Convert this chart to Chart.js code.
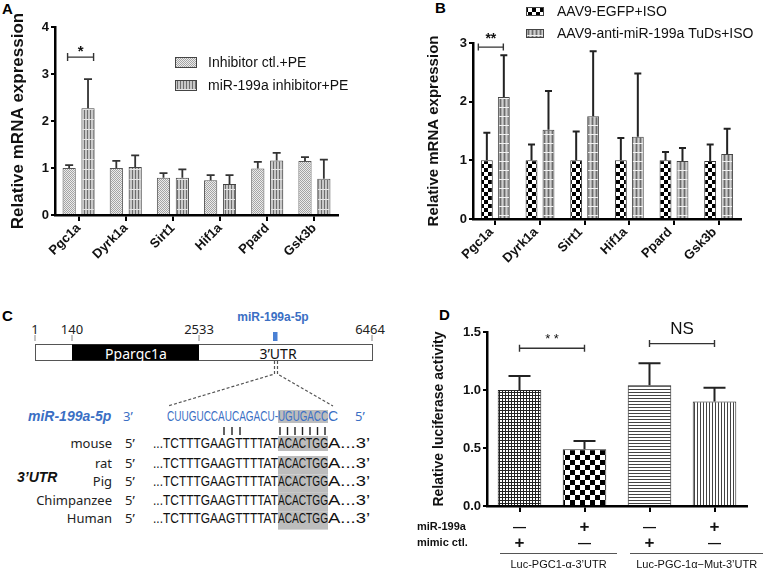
<!DOCTYPE html>
<html lang="en">
<head>
<meta charset="UTF-8">
<title>miR-199a targets Ppargc1a</title>
<script src="https://cdn.jsdelivr.net/npm/chart.js@4"></script>
<style>
  html, body { margin: 0; padding: 0; background: #fff; }
  body { width: 763px; height: 570px; position: relative; overflow: hidden; font-family: "Liberation Sans", Arial, sans-serif; }
  .panel { position: absolute; }
  .tag { position: absolute; font: bold 15px/15px "Liberation Sans", Arial, sans-serif; color: #000; }
</style>
</head>
<body>
<div class="tag" style="left:2px;top:1px">A</div>
<div class="tag" style="left:435px;top:0px">B</div>
<div class="tag" style="left:2px;top:308px">C</div>
<div class="tag" style="left:439px;top:307px">D</div>

<canvas class="panel" id="chartA" width="380" height="268" style="left:0;top:0"></canvas>
<canvas class="panel" id="chartB" width="383" height="268" style="left:380px;top:0"></canvas>
<svg class="panel" id="panelC" width="400" height="300" style="left:0;top:270px"></svg>
<canvas class="panel" id="chartD" width="363" height="280" style="left:400px;top:290px"></canvas>

<script>
// ---------- data ----------
const genes = ['Pgc1a', 'Dyrk1a', 'Sirt1', 'Hif1a', 'Ppard', 'Gsk3b'];

// A: relative mRNA, cardiomyocytes + PE
const aSeries = ['Inhibitor ctl.+PE', 'miR-199a inhibitor+PE'];
const aCtlMean = [1.00, 1.00, 0.79, 0.74, 0.99, 1.15];
const aCtlSd   = [0.06, 0.15, 0.10, 0.11, 0.14, 0.08];
const aInhMean = [2.27, 1.02, 0.79, 0.66, 1.16, 0.77];
const aInhSd   = [0.62, 0.25, 0.18, 0.19, 0.16, 0.41];
const aTicks = [0, 1, 2, 3, 4];

// B: relative mRNA, AAV9 + ISO hearts
const bSeries = ['AAV9-EGFP+ISO', 'AAV9-anti-miR-199a TuDs+ISO'];
const bEgfpMean = [1.00, 1.00, 1.00, 1.00, 1.00, 0.99];
const bEgfpSd   = [0.47, 0.27, 0.49, 0.38, 0.14, 0.28];
const bTudMean  = [2.08, 1.52, 1.75, 1.40, 0.99, 1.11];
const bTudSd    = [0.71, 0.66, 1.11, 1.08, 0.22, 0.43];
const bTicks = [0, 1, 2, 3];

// C: Ppargc1a transcript map and seed alignment
const coordLabels = ['1', '140', '2533', '6464'];
const mirName = 'miR-199a-5p';
const mirSeq = ['CUUGUCCAUCAGACU-', 'UGUGACC', 'C'];
const species = ['mouse', 'rat', 'Pig', 'Chimpanzee', 'Human'];
const utrSeq = ['...TCTTTGAAGTTTTAT', 'ACACTGG', 'A...3\u2019'];

// D: luciferase reporter
const dConstructs = ['Luc-PGC1-\u03b1-3\u2019UTR', 'Luc-PGC-1\u03b1\u2212Mut-3\u2019UTR'];
const dMiR199a  = ['\u2014', '+', '\u2014', '+'];
const dMimicCtl = ['+', '\u2014', '+', '\u2014'];
const dMean = [1.00, 0.49, 1.04, 0.90];
const dSd   = [0.12, 0.07, 0.19, 0.12];
const dTicks = [0, 0.5, 1.0, 1.5];

// ---------- helpers ----------
const FONT = '"Liberation Sans", Arial, sans-serif';
Chart.defaults.font.family = FONT;
Chart.defaults.color = '#111';

function makePattern(w, h, paint) {
  const c = document.createElement('canvas');
  c.width = w; c.height = h;
  const g = c.getContext('2d');
  paint(g, w, h);
  return g.createPattern(c, 'repeat');
}
const stipple = makePattern(2, 2, g => {
  g.fillStyle = '#ececec'; g.fillRect(0, 0, 2, 2);
  g.fillStyle = '#a4a4a4'; g.fillRect(0, 0, 1, 1); g.fillRect(1, 1, 1, 1);
});
const vstripeA = makePattern(3, 10, g => {
  g.fillStyle = '#c8c8c8'; g.fillRect(0, 0, 3, 10);
  g.fillStyle = '#6e6e6e'; g.fillRect(0, 0, 1, 10);
  g.fillStyle = '#e6e6e6'; g.fillRect(0, 9, 3, 1);
});
const checker4 = makePattern(8, 8, g => {
  g.fillStyle = '#fff'; g.fillRect(0, 0, 8, 8);
  g.fillStyle = '#000'; g.fillRect(0, 0, 4, 4); g.fillRect(4, 4, 4, 4);
});
const vstripeB = makePattern(4, 9, g => {
  g.fillStyle = '#a8a8a8'; g.fillRect(0, 0, 4, 9);
  g.fillStyle = '#6c6c6c'; g.fillRect(0, 0, 1, 9);
  g.fillStyle = '#cfcfcf'; g.fillRect(2, 0, 1, 9);
  g.fillStyle = '#f2f2f2'; g.fillRect(0, 8, 4, 1);
});
const gridPat = makePattern(3, 3, g => {
  g.fillStyle = '#fff'; g.fillRect(0, 0, 3, 3);
  g.fillStyle = '#222'; g.fillRect(0, 0, 3, 1); g.fillRect(0, 0, 1, 3);
});
const checker5 = makePattern(10, 10, g => {
  g.fillStyle = '#fff'; g.fillRect(0, 0, 10, 10);
  g.fillStyle = '#000'; g.fillRect(0, 0, 5, 5); g.fillRect(5, 5, 5, 5);
});
const hlines = makePattern(1, 3, g => {
  g.fillStyle = '#fff'; g.fillRect(0, 0, 1, 3);
  g.fillStyle = '#444'; g.fillRect(0, 0, 1, 1);
});
const vlines = makePattern(3, 1, g => {
  g.fillStyle = '#fff'; g.fillRect(0, 0, 3, 1);
  g.fillStyle = '#444'; g.fillRect(0, 0, 1, 1);
});

function errorBars(o) {
  return {
    id: 'errorBars',
    afterDatasetsDraw(chart) {
      const ctx = chart.ctx, y = chart.scales.y;
      chart.data.datasets.forEach((ds, i) => {
        chart.getDatasetMeta(i).data.forEach((bar, j) => {
          const top = y.getPixelForValue(ds.data[j] + ds.sd[j]);
          ctx.save();
          ctx.strokeStyle = o.color; ctx.lineWidth = o.width;
          ctx.beginPath();
          ctx.moveTo(bar.x, bar.y); ctx.lineTo(bar.x, top);
          ctx.moveTo(bar.x - o.cap / 2, top); ctx.lineTo(bar.x + o.cap / 2, top);
          ctx.stroke();
          ctx.restore();
        });
      });
    }
  };
}

// category labels, rotated 45 degrees and ending just under each tick
function slantLabels(chart, dx, dy) {
  const ctx = chart.ctx, x = chart.scales.x, b = chart.chartArea.bottom;
  ctx.save();
  ctx.fillStyle = '#111'; ctx.font = 'bold 13px ' + FONT;
  ctx.textAlign = 'right'; ctx.textBaseline = 'middle';
  chart.data.labels.forEach((lab, i) => {
    ctx.save();
    ctx.translate(x.getPixelForValue(i) + dx, b + dy);
    ctx.rotate(-Math.PI / 4);
    ctx.fillText(lab, 0, 0);
    ctx.restore();
  });
  ctx.restore();
}

function bracket(ctx, x1, x2, y, tick, label, font, dy) {
  ctx.save();
  ctx.strokeStyle = '#333'; ctx.lineWidth = 1.4;
  ctx.beginPath();
  ctx.moveTo(x1, y - tick); ctx.lineTo(x1, y + tick);
  ctx.moveTo(x1, y); ctx.lineTo(x2, y);
  ctx.moveTo(x2, y - tick); ctx.lineTo(x2, y + tick);
  ctx.stroke();
  ctx.fillStyle = '#111'; ctx.font = font;
  ctx.textAlign = 'center'; ctx.textBaseline = 'middle';
  ctx.fillText(label, (x1 + x2) / 2, y + dy);
  ctx.restore();
}

function drawLegend(chart, o) {
  const ctx = chart.ctx;
  ctx.save();
  chart.data.datasets.forEach((ds, i) => {
    const y = o.y + i * o.step;
    ctx.fillStyle = ds.backgroundColor; ctx.fillRect(o.x, y, o.w, o.h);
    ctx.strokeStyle = '#444'; ctx.lineWidth = 1;
    ctx.strokeRect(o.x + 0.5, y + 0.5, o.w - 1, o.h - 1);
    ctx.fillStyle = '#111'; ctx.font = o.font;
    ctx.textAlign = 'left'; ctx.textBaseline = 'middle';
    ctx.fillText(ds.label, o.tx, y + o.h / 2 + 1);
  });
  ctx.restore();
}

function scales(o) {
  return {
    x: {
      type: 'category', offset: true,
      border: { display: true, color: '#000', width: 2.5 },
      grid: { display: true, offset: false, drawOnChartArea: false, drawTicks: true,
              tickLength: 6, tickWidth: 2, lineWidth: 2, tickColor: '#000' },
      ticks: { display: false },
      afterFit: s => { s.height = o.xh; }
    },
    y: {
      min: o.yTicks[0], max: o.yTicks[o.yTicks.length - 1],
      border: { display: true, color: '#000', width: 2.5 },
      grid: { display: true, drawOnChartArea: false, drawTicks: true,
              tickLength: 4, tickWidth: 2, lineWidth: 2, tickColor: '#000' },
      ticks: { font: { weight: 'bold', size: 13 }, color: '#111', padding: 2,
               callback: o.yFmt || (v => v) },
      afterBuildTicks: s => { s.ticks = o.yTicks.map(v => ({ value: v })); },
      title: { display: true, text: o.yTitle, font: { weight: 'bold', size: o.yTitleSize },
               color: '#111', padding: { top: o.yTitlePad, bottom: 0 } },
      afterFit: s => { s.width = o.yw; }
    }
  };
}

const baseOpts = { responsive: false, animation: false, devicePixelRatio: 1 };

// ---------- A ----------
new Chart(document.getElementById('chartA'), {
  type: 'bar',
  data: {
    labels: genes,
    datasets: [
      { label: aSeries[0], data: aCtlMean, sd: aCtlSd, backgroundColor: stipple,
        borderColor: '#555', borderWidth: 1 },
      { label: aSeries[1], data: aInhMean, sd: aInhSd, backgroundColor: vstripeA,
        borderColor: '#444', borderWidth: 1 }
    ]
  },
  options: {
    ...baseOpts,
    layout: { padding: { left: 0, right: 42, top: 27, bottom: 0 } },
    datasets: { bar: { categoryPercentage: 0.8, barPercentage: 0.7 } },
    plugins: { legend: { display: false }, tooltip: { enabled: false } },
    scales: scales({ xh: 53, yw: 55, yTicks: aTicks,
                     yTitle: 'Relative mRNA expression', yTitleSize: 17, yTitlePad: 8.3 })
  },
  plugins: [errorBars({ color: '#333', width: 1.8, cap: 8 }), {
    id: 'marksA',
    afterDraw(chart) {
      const x = chart.scales.x, y = chart.scales.y, cx = x.getPixelForValue(0);
      slantLabels(chart, 0, 11);
      bracket(chart.ctx, cx - 11, cx + 15, y.getPixelForValue(3.36), 4, '*', 'bold 15px ' + FONT, -5);
      drawLegend(chart, { x: 175, y: 57, w: 22, h: 11, step: 23, tx: 208, font: '14px ' + FONT });
    }
  }]
});

// ---------- B ----------
new Chart(document.getElementById('chartB'), {
  type: 'bar',
  data: {
    labels: genes,
    datasets: [
      { label: bSeries[0], data: bEgfpMean, sd: bEgfpSd, backgroundColor: checker4,
        borderColor: '#333', borderWidth: 1 },
      { label: bSeries[1], data: bTudMean, sd: bTudSd, backgroundColor: vstripeB,
        borderColor: '#444', borderWidth: 1 }
    ]
  },
  options: {
    ...baseOpts,
    layout: { padding: { left: 0, right: 22, top: 43, bottom: 0 } },
    datasets: { bar: { categoryPercentage: 0.76, barPercentage: 0.7 } },
    plugins: { legend: { display: false }, tooltip: { enabled: false } },
    scales: scales({ xh: 49, yw: 93, yTicks: bTicks,
                     yTitle: 'Relative mRNA expression', yTitleSize: 15, yTitlePad: 45 })
  },
  plugins: [errorBars({ color: '#222', width: 2, cap: 7 }), {
    id: 'marksB',
    afterDraw(chart) {
      const x = chart.scales.x, y = chart.scales.y, cx = x.getPixelForValue(0);
      slantLabels(chart, -4, 11);
      bracket(chart.ctx, cx - 17, cx + 8, y.getPixelForValue(2.93), 3.5, '**', 'bold 14px ' + FONT, -8);
      drawLegend(chart, { x: 146, y: 7, w: 18, h: 9, step: 22, tx: 177, font: '14px ' + FONT });
    }
  }]
});

// ---------- D ----------
new Chart(document.getElementById('chartD'), {
  type: 'bar',
  data: {
    labels: dMiR199a.map((m, i) => 'miR-199a ' + m + ' / mimic ctl. ' + dMimicCtl[i]),
    datasets: [
      { label: 'Relative luciferase activity', data: dMean, sd: dSd,
        backgroundColor: [gridPat, checker5, hlines, vlines], borderColor: '#222', borderWidth: 1 }
    ]
  },
  options: {
    ...baseOpts,
    layout: { padding: { left: 0, right: 16, top: 42, bottom: 0 } },
    datasets: { bar: { categoryPercentage: 1, barPercentage: 0.67 } },
    plugins: { legend: { display: false }, tooltip: { enabled: false } },
    scales: scales({ xh: 64, yw: 87, yTicks: dTicks, yFmt: v => v.toFixed(1),
                     yTitle: 'Relative luciferase activity', yTitleSize: 14, yTitlePad: 30.6 })
  },
  plugins: [errorBars({ color: '#222', width: 2, cap: 22 }), {
    id: 'marksD',
    afterDraw(chart) {
      const ctx = chart.ctx, x = chart.scales.x, y = chart.scales.y;
      const px = i => x.getPixelForValue(i);
      bracket(ctx, px(0), px(1), y.getPixelForValue(1.36), 3.5, '* *', '13px ' + FONT, -9);
      bracket(ctx, px(2), px(3), y.getPixelForValue(1.40), 3.5, 'NS', '17px ' + FONT, -14);

      const b = chart.chartArea.bottom;
      ctx.save();
      ctx.fillStyle = '#111';
      ctx.font = 'bold 11px ' + FONT; ctx.textAlign = 'left'; ctx.textBaseline = 'middle';
      ctx.fillText('miR-199a', 17, b + 21);
      ctx.fillText('mimic ctl.', 17, b + 37);
      ctx.textAlign = 'center';
      [dMiR199a, dMimicCtl].forEach((row, r) => {
        row.forEach((s, i) => {
          ctx.font = (s === '+' ? 'bold 17px ' : 'bold 13px ') + FONT;
          ctx.fillText(s, px(i), b + 21 + r * 16);
        });
      });
      const spans = [[-0.3, 1.5], [1.7, 3.75]];
      ctx.strokeStyle = '#555'; ctx.lineWidth = 1;
      ctx.font = '11px ' + FONT;
      dConstructs.forEach((name, g) => {
        const x1 = px(spans[g][0]), x2 = px(spans[g][1]);
        ctx.beginPath(); ctx.moveTo(x1, b + 47.5); ctx.lineTo(x2, b + 47.5); ctx.stroke();
        ctx.fillText(name, (x1 + x2) / 2, b + 59);
      });
      ctx.restore();
    }
  }]
});

// ---------- C (transcript diagram) ----------
(function buildPanelC() {
  const blue = '#3b6fc4';
  const p = [];
  const text = (x, y, s, a) => p.push(`<text x="${x}" y="${y}" dominant-baseline="central" ${a || ''}>${s}</text>`);
  const coordX = [35, 72, 199, 372];

  coordLabels.forEach((s, i) => {
    text(coordX[i] - (i === 3 ? 2 : 0), 59, s, 'font-family="Noto Sans" font-size="13" fill="#222" text-anchor="middle"');
    p.push(`<line x1="${coordX[i]}" y1="65" x2="${coordX[i]}" y2="71" stroke="#888" stroke-width="1"/>`);
  });
  text(273, 47, mirName, `font-family="Liberation Sans" font-weight="bold" font-size="12" fill="${blue}" text-anchor="middle"`);
  p.push(`<rect x="273" y="62" width="4.5" height="9" fill="#4a80d4"/>`);
  p.push(`<rect x="35.5" y="74.5" width="337" height="16" fill="#fff" stroke="#555" stroke-width="1"/>`);
  p.push(`<rect x="72" y="74.5" width="127" height="16" fill="#000"/>`);
  text(136, 83, 'Ppargc1a', 'font-family="Noto Sans" font-size="14" fill="#fff" text-anchor="middle"');
  text(278, 83, '3\u2019UTR', 'font-family="Noto Sans" font-size="14" fill="#111" text-anchor="middle"');

  const dash = 'stroke="#555" stroke-width="1.2" stroke-dasharray="3,2" fill="none"';
  p.push(`<path d="M274.5 91 V104 L168 136 M277.5 91 V104 L333 136" ${dash}/>`);

  // miRNA row
  const seqFont = 'font-family="Liberation Sans Narrow, Liberation Sans" font-size="14" lengthAdjust="spacingAndGlyphs"';
  p.push(`<rect x="278" y="140" width="50" height="13" fill="#bdbdbd"/>`);
  text(28, 146, mirName, `font-family="Liberation Sans" font-style="italic" font-weight="bold" font-size="14" fill="${blue}"`);
  text(123, 146, '3\u2019', `font-family="Noto Sans" font-size="13" fill="${blue}"`);
  text(167, 146, mirSeq[0], `${seqFont} textLength="111" fill="${blue}"`);
  text(278, 146, mirSeq[1], `${seqFont} textLength="50" fill="${blue}"`);
  text(328, 146, mirSeq[2], `${seqFont} fill="${blue}"`);
  text(355, 146, '5\u2019', `font-family="Noto Sans" font-size="13" fill="${blue}"`);

  // seed pairing
  const pairs = [224, 232, 240, 280, 287.5, 295, 302.5, 310, 317.5, 325];
  pairs.forEach(x => p.push(`<line x1="${x}" y1="157" x2="${x}" y2="165" stroke="#222" stroke-width="1.4"/>`));

  // 3'UTR rows
  species.forEach((sp, i) => {
    const y = i === 0 ? 173 : 193 + (i - 1) * 18.4;
    p.push(`<rect x="278" y="${y - 7}" width="50" height="${i === 0 ? 15 : 18.4}" fill="#bdbdbd"/>`);
    text(112, y, sp, 'font-family="Noto Sans" font-size="13" fill="#222" text-anchor="end"');
    text(125, y, '5\u2019', 'font-family="Noto Sans" font-size="13" fill="#222"');
    text(153, y, utrSeq[0], `${seqFont} textLength="125" fill="#111"`);
    text(278, y, utrSeq[1], `${seqFont} textLength="50" fill="#111"`);
    text(328, y, utrSeq[2], `${seqFont} textLength="42" fill="#111"`);
  });
  text(17, 207, '3\u2019UTR', 'font-family="Liberation Sans" font-style="italic" font-weight="bold" font-size="14" fill="#111"');

  document.getElementById('panelC').innerHTML = p.join('');
})();
</script>
</body>
</html>
